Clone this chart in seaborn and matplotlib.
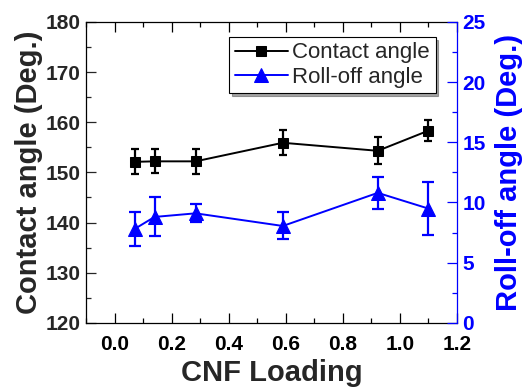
import matplotlib
matplotlib.use("Agg")
import matplotlib.pyplot as plt
import seaborn as sns
import pandas as pd
from matplotlib.ticker import MultipleLocator

cnf_loading = [0.07, 0.14, 0.284, 0.59, 0.923, 1.10]
contact_angle = [152.1, 152.2, 152.2, 155.9, 154.3, 158.3]
contact_err = [2.5, 2.4, 2.45, 2.5, 2.7, 2.05]
rolloff_angle = [7.8, 8.8, 9.1, 8.05, 10.8, 9.5]
rolloff_err = [1.45, 1.62, 0.76, 1.12, 1.31, 2.18]
x_ticks = [0.0, 0.2, 0.4, 0.6, 0.8, 1.0, 1.2]
x_tick_labels = ["0.0", "0.2", "0.4", "0.6", "0.8", "1.0", "1.2"]

sns.set_style("white")
plt.rcParams['font.family'] = ['Liberation Sans', 'DejaVu Sans']

df = pd.DataFrame({"x": cnf_loading, "ca": contact_angle, "ro": rolloff_angle})

fig = plt.figure(figsize=(5.25, 3.9), dpi=100)
ax = fig.add_axes([0.164, 0.172, 0.706, 0.772])
ax2 = ax.twinx()

sns.lineplot(data=df, x="x", y="ca", ax=ax, color="black", marker="s",
             markersize=7.5, markeredgecolor="black", linewidth=1.4,
             label="Contact angle", legend=False)
ax.errorbar(cnf_loading, contact_angle, yerr=contact_err, fmt="none",
            ecolor="black", elinewidth=1.6, capsize=3.2, capthick=1.6)

sns.lineplot(data=df, x="x", y="ro", ax=ax2, color="blue", marker="^",
             markersize=10, markeredgecolor="blue", linewidth=1.4,
             label="Roll-off angle", legend=False)
ax2.errorbar(cnf_loading, rolloff_angle, yerr=rolloff_err, fmt="none",
             ecolor="blue", elinewidth=1.6, capsize=4.2, capthick=1.6)

ax.set_xlim(-0.1, 1.2)
ax.set_ylim(120, 180)
ax2.set_ylim(0, 25)

ax.set_xticks(x_ticks)
ax.set_xticklabels(x_tick_labels)
ax.xaxis.set_minor_locator(MultipleLocator(0.1))
ax.yaxis.set_major_locator(MultipleLocator(10))
ax.yaxis.set_minor_locator(MultipleLocator(5))
ax2.yaxis.set_major_locator(MultipleLocator(5))
ax2.yaxis.set_minor_locator(MultipleLocator(2.5))

ax.tick_params(axis="x", which="both", direction="in", top=True, bottom=True,
               labelsize=15, pad=9, colors="black")
ax.tick_params(axis="x", which="major", length=7, width=0.9)
ax.tick_params(axis="x", which="minor", length=3.5, width=0.9)
ax.tick_params(axis="y", which="major", direction="in", left=True, length=7,
               width=0.9, labelsize=15, pad=4)
ax.tick_params(axis="y", which="minor", direction="in", left=True, length=3.5, width=0.9)
ax2.tick_params(axis="y", which="major", direction="in", right=True, length=7,
                width=0.9, labelsize=15, colors="blue", pad=4)
ax2.tick_params(axis="y", which="minor", direction="in", right=True, length=3.5,
                width=0.9, colors="blue")

for lab in ax.get_xticklabels() + ax.get_yticklabels() + ax2.get_yticklabels():
    lab.set_fontweight("bold")

ax.set_xlabel("CNF Loading", fontsize=21, fontweight="bold", labelpad=3)
ax.set_ylabel("Contact angle (Deg.)", fontsize=21, fontweight="bold", labelpad=2)
ax2.set_ylabel("Roll-off angle (Deg.)", fontsize=21, fontweight="bold",
               color="blue", labelpad=7)

for s in ["left", "bottom", "top"]:
    ax.spines[s].set_color("black")
    ax.spines[s].set_linewidth(0.9)
ax.spines["right"].set_visible(False)
ax2.spines["right"].set_color("blue")
ax2.spines["right"].set_linewidth(0.9)
for s in ["left", "bottom", "top"]:
    ax2.spines[s].set_visible(False)

h1, l1 = ax.get_legend_handles_labels()
h2, l2 = ax2.get_legend_handles_labels()
leg = ax2.legend(h1 + h2, l1 + l2, loc="upper right", bbox_to_anchor=(0.955, 0.965),
                 fontsize=16, frameon=True, fancybox=False, shadow=True,
                 edgecolor="black", framealpha=1, borderpad=0.25,
                 handlelength=2.4, handletextpad=0.2, labelspacing=0.15,
                 borderaxespad=0.2)
leg.get_frame().set_linewidth(0.8)

fig.savefig("out.png", dpi=100)
